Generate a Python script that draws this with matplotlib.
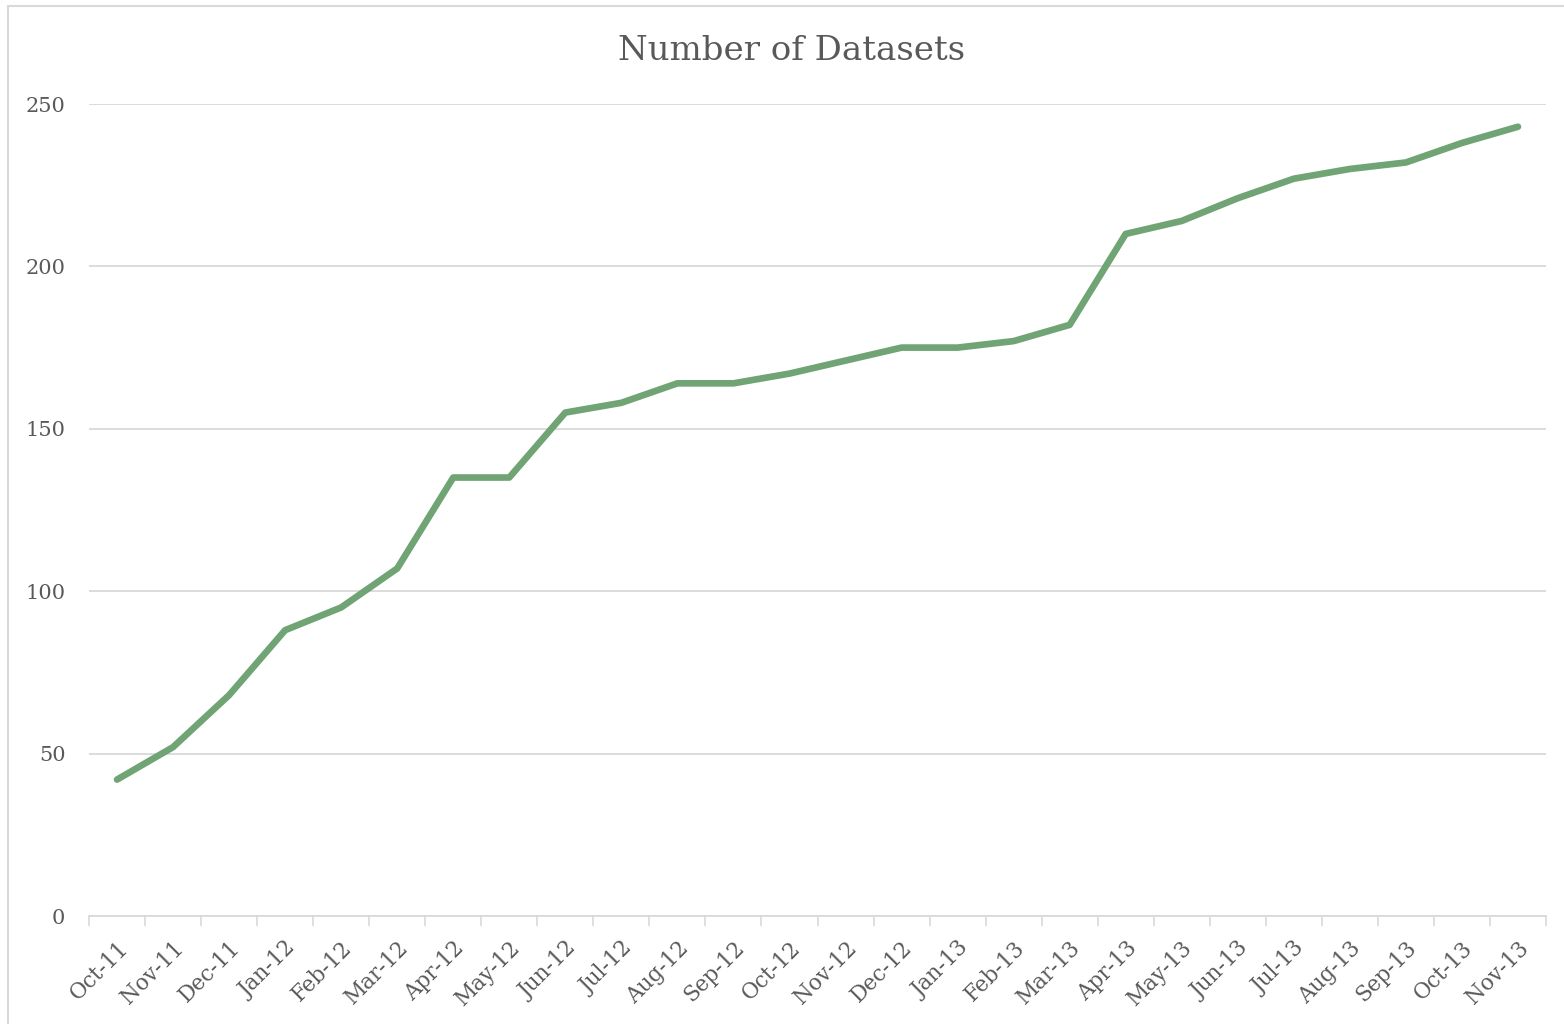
import matplotlib
matplotlib.use("Agg")
import matplotlib.pyplot as plt
from matplotlib.patches import Rectangle

categories = ["Oct-11", "Nov-11", "Dec-11", "Jan-12", "Feb-12", "Mar-12", "Apr-12",
              "May-12", "Jun-12", "Jul-12", "Aug-12", "Sep-12", "Oct-12", "Nov-12",
              "Dec-12", "Jan-13", "Feb-13", "Mar-13", "Apr-13", "May-13", "Jun-13",
              "Jul-13", "Aug-13", "Sep-13", "Oct-13", "Nov-13"]
datasets = [42, 52, 68, 88, 95, 107, 135, 135, 155, 158, 164, 164, 167, 171,
            175, 175, 177, 182, 210, 214, 221, 227, 230, 232, 238, 243]
y_ticks = [0, 50, 100, 150, 200, 250]
title = "Number of Datasets"

plt.rcParams['font.family'] = ['DejaVu Serif']
text_color = "#595959"
grid_color = "#D9D9D9"
line_color = "#70A475"

W, H = 1564, 1024
fig = plt.figure(figsize=(W / 100, H / 100), dpi=100)
fig.patch.set_facecolor("white")

# outer chart border
fig.patches.append(Rectangle((8 / W, -0.1), 1.2, (1024 - 6) / H + 0.1,
                             transform=fig.transFigure, fill=False,
                             edgecolor="#D9D9D9", linewidth=1.5))

ax = fig.add_axes([89 / W, (H - 916) / H, (1546 - 89) / W, (916 - 104) / H])
x = list(range(len(categories)))
ax.plot(x, datasets, color=line_color, linewidth=4.8, solid_capstyle="round",
        solid_joinstyle="round", zorder=3)

ax.set_xlim(-0.5, len(categories) - 0.5)
ax.set_ylim(0, 250)
ax.set_yticks(y_ticks)
ax.set_yticklabels([str(v) for v in y_ticks])
ax.set_xticks(x)
ax.set_xticklabels(categories, rotation=45, ha="right", va="top",
                   rotation_mode="anchor")
ax.set_xticks([i - 0.5 for i in range(len(categories) + 1)], minor=True)

ax.tick_params(axis="x", which="major", length=0, pad=15, labelsize=15.5,
               labelcolor=text_color)
ax.tick_params(axis="x", which="minor", length=7, width=1.2, color=grid_color)
ax.tick_params(axis="y", length=0, pad=17, labelsize=15, labelcolor=text_color)

ax.grid(axis="y", color=grid_color, linewidth=1.3)
ax.set_axisbelow(True)
for s in ["top", "right", "left"]:
    ax.spines[s].set_visible(False)
ax.spines["bottom"].set_color(grid_color)
ax.spines["bottom"].set_linewidth(1.3)
ax.spines["bottom"].set_zorder(2)

fig.text(792 / W, 1 - 51 / H, title, ha="center", va="center",
         fontsize=24.5, color=text_color)

fig.savefig("out.png", dpi=100)
